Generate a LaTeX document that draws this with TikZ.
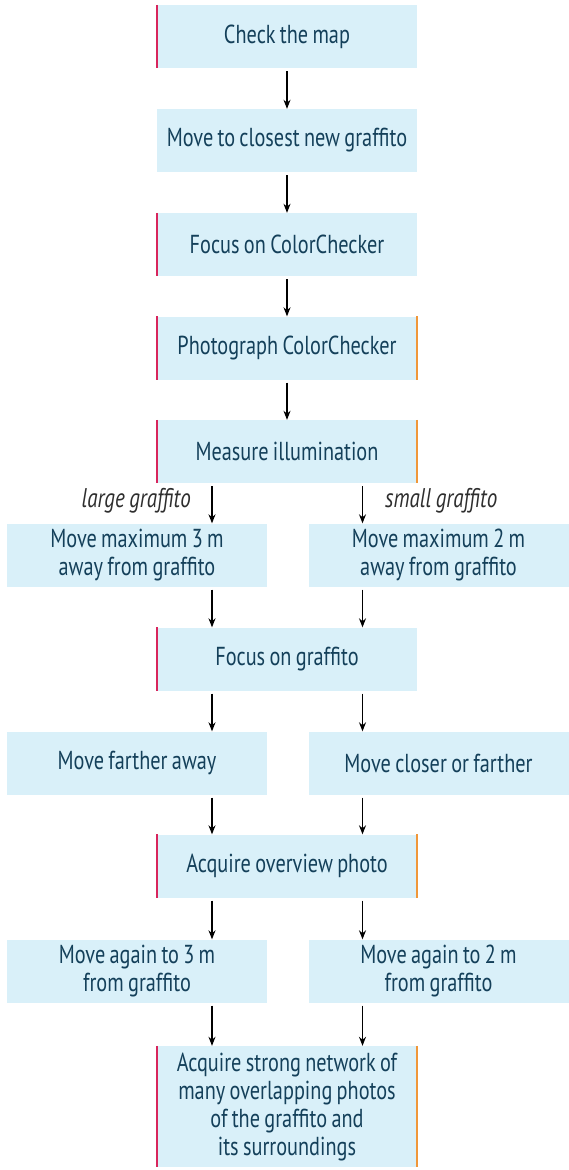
\documentclass[tikz,border=0pt]{standalone}
\usepackage{fontspec}
\setmainfont{PT Sans}[FakeStretch=0.78, WordSpace=0.8]
\usepackage{xcolor}

\definecolor{boxblue}{HTML}{D9F0F9}
\definecolor{boxtext}{HTML}{14405A}
\definecolor{barred}{HTML}{D8255C}
\definecolor{barorange}{HTML}{F0973A}
\definecolor{labelgray}{HTML}{2E2E2E}

\tikzset{
  stepbox/.style={fill=boxblue, text=boxtext, minimum width=260pt, minimum height=63pt,
    align=center, inner sep=0pt, font=\fontsize{26}{28}\selectfont},
  flow/.style={-{Stealth[length=9pt,width=7pt]}, line width=1.1pt, shorten <=3pt},
  redbar/.style={barred, line width=2.2pt},
  orangebar/.style={barorange, line width=2.2pt},
  branch/.style={text=labelgray, inner sep=0pt, font=\fontsize{27}{28}\selectfont\itshape}
}
\usetikzlibrary{arrows.meta}

\begin{document}
\begin{tikzpicture}[x=1pt, y=-1pt]
    % Keep the page size fixed
    \useasboundingbox (0,0) rectangle (569,1170);

    % Main column
    \node[stepbox] (map) at (287,36.5) {Check the map};
    \node[stepbox] (closest) at (287,140.5) {Move to closest new graffito};
    \node[stepbox] (focuscc) at (287,244.5) {Focus on ColorChecker};
    \node[stepbox] (photocc) at (287,348) {Photograph ColorChecker};
    \node[stepbox] (measure) at (287,451.5) {Measure illumination};

    % Branch labels
    \node[branch, anchor=east] (large) at (191,501) {large graffito};
    \node[branch, anchor=west] (small) at (385,501) {small graffito};

    % Two columns, joined again at the shared steps
    \node[stepbox] (lmax) at (137,555) {Move maximum 3 m\\away from graffito};
    \node[stepbox] (rmax) at (438.5,555) {Move maximum 2 m\\away from graffito};
    \node[stepbox] (focusg) at (287,659) {Focus on graffito};
    \node[stepbox] (lfar) at (137,763) {Move farther away};
    \node[stepbox] (rfar) at (438.5,763) {Move closer or farther};
    \node[stepbox] (overview) at (287,866) {Acquire overview photo};
    \node[stepbox] (lagain) at (137,971) {Move again to 3 m\\from graffito};
    \node[stepbox] (ragain) at (438.5,971) {Move again to 2 m\\from graffito};
    \node[stepbox, minimum height=121pt] (network) at (287,1106.5)
      {Acquire strong network of\\many overlapping photos\\of the graffito and\\its surroundings};

    % Colored edge marks
    \foreach \n in {map,focuscc,photocc,measure,focusg,overview,network}
      \draw[redbar] (\n.north west) -- (\n.south west);
    \foreach \n in {photocc,measure,overview,network}
      \draw[orangebar] (\n.north east) -- (\n.south east);

    % Arrows down the main column
    \draw[flow] (map) -- (closest);
    \draw[flow] (closest) -- (focuscc);
    \draw[flow] (focuscc) -- (photocc);
    \draw[flow] (photocc) -- (measure);

    % Arrows of the two branches
    \foreach \a/\b in {measure/lmax, lmax/focusg, focusg/lfar, lfar/overview,
                       overview/lagain, lagain/network}
      \draw[flow] ([xshift=-75pt]measure.south |- \a.south) -- ([xshift=-75pt]measure.south |- \b.north);
    \foreach \a/\b in {measure/rmax, rmax/focusg, focusg/rfar, rfar/overview,
                       overview/ragain, ragain/network}
      \draw[flow] ([xshift=75.5pt]measure.south |- \a.south) -- ([xshift=75.5pt]measure.south |- \b.north);
\end{tikzpicture}
\end{document}
